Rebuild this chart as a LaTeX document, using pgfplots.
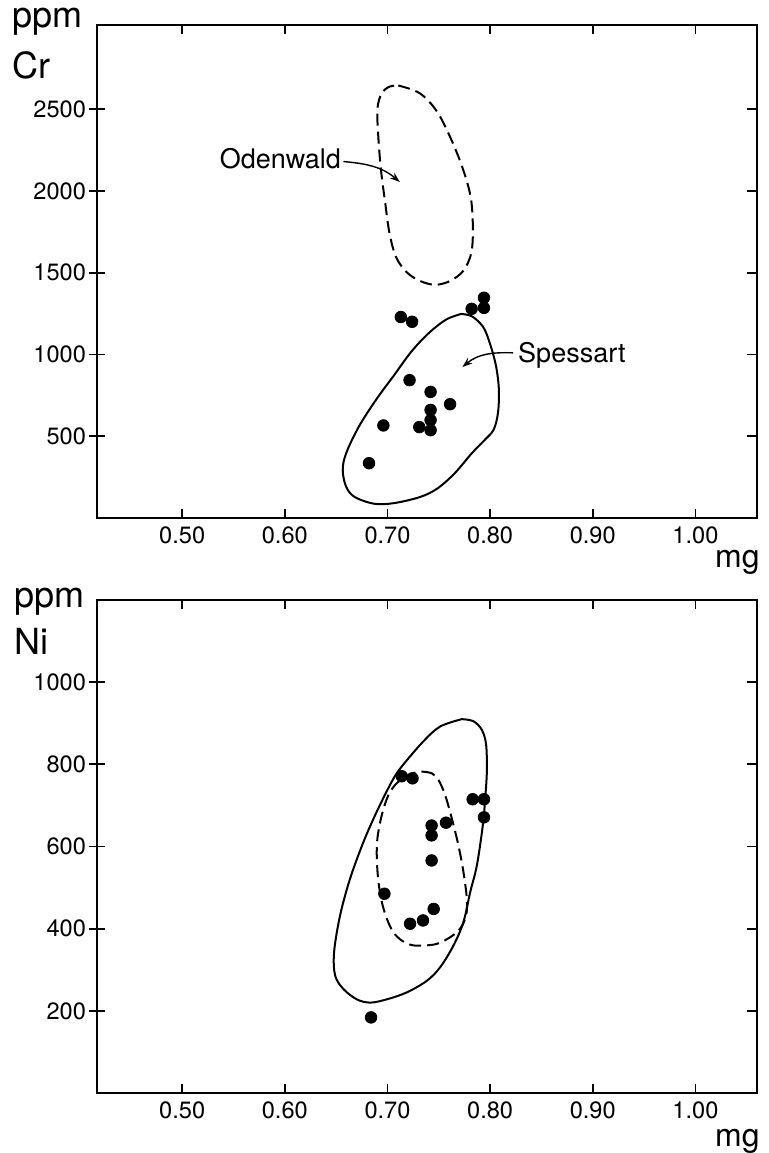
\documentclass[border=0pt]{standalone}
\usepackage{fontspec}
\setmainfont{TeX Gyre Heros}
\usepackage{pgfplots}
\usepackage{pgfplotstable}
\pgfplotsset{compat=1.18}
\usetikzlibrary{arrows.meta}
\tikzset{tk/.style={black, line width=0.9pt}}

\pgfplotstableread{
x y
0.713 1229
0.724 1200
0.782 1279
0.794 1347
0.794 1285
0.7215 843
0.742 771
0.761 696
0.742 661
0.742 599
0.742 537
0.731 556
0.696 566
0.682 335
}\crpts

\pgfplotstableread{
x y
0.7139 771
0.7244 766
0.783 715
0.794 715
0.794 671
0.757 658
0.743 651
0.743 627
0.743 566
0.697 485
0.745 448
0.7346 420
0.722 412
0.684 184
}\nipts

\pgfplotsset{
  myaxis/.style={
    scale only axis, width=330pt, height=246.5pt,
    xmin=0.417, xmax=1.06,
    xtick={0.5,0.6,0.7,0.8,0.9,1.0},
    xticklabel style={/pgf/number format/fixed, /pgf/number format/fixed zerofill, /pgf/number format/precision=2, yshift=-1pt},
    yticklabel style={/pgf/number format/1000 sep={}, xshift=-2pt},
    /pgf/number format/assume math mode=true,
    major tick length=0pt,
    axis line style={line width=1.3pt},
    ticklabel style={font=\fontsize{11.8}{12}\selectfont},
    clip=false,
  },
  dots/.style={only marks, mark=*, mark size=2.9pt, black},
  solidc/.style={smooth, tension=0.55, line width=1pt, black},
  dashc/.style={smooth, tension=0.55, line width=1pt, black, dash pattern=on 6pt off 3pt},
}

\begin{document}
\begin{tikzpicture}
\useasboundingbox (0,0) rectangle (384pt,576.5pt);

% ---------- Top panel: Cr ----------
\begin{axis}[myaxis, at={(48.5pt,317.5pt)}, anchor=south west,
  ymin=0, ymax=3015, ytick={500,1000,1500,2000,2500}]
\pgfplotsinvokeforeach{0.5,0.6,0.7,0.8,0.9,1.0}{
  \draw[tk] (axis cs:#1,0) -- ([yshift=4.5pt]axis cs:#1,0);
  \draw[tk] (axis cs:#1,3015) -- ([yshift=-4.5pt]axis cs:#1,3015);
}
\pgfplotsinvokeforeach{500,1000,1500,2000,2500}{
  \draw[tk] ([xshift=-4pt]axis cs:0.417,#1) -- ([xshift=4pt]axis cs:0.417,#1);
  \draw[tk] (axis cs:1.06,#1) -- ([xshift=-5pt]axis cs:1.06,#1);
}
\addplot[dots] table {\crpts};
% Odenwald (dashed)
\addplot[dashc] coordinates {
(0.7105,2645) (0.7316,2597) (0.7485,2483) (0.7633,2298) (0.7747,2112)
(0.7815,1946) (0.7832,1760) (0.7815,1616) (0.7739,1512) (0.7612,1450)
(0.7464,1426) (0.7316,1450) (0.7189,1502) (0.7084,1595) (0.702,1740)
(0.6978,1926) (0.6936,2132) (0.691,2339) (0.6902,2504) (0.6944,2597)
(0.702,2638) (0.7105,2645)};
% Spessart (solid)
\addplot[solidc] coordinates {
(0.7718,1248) (0.7823,1233) (0.7929,1171) (0.7992,1079) (0.8056,934)
(0.8085,789) (0.8077,645) (0.8035,541) (0.795,479) (0.7823,397)
(0.7654,273) (0.7485,180) (0.7316,128) (0.7063,91) (0.6872,87)
(0.6682,128) (0.6598,190) (0.6564,293) (0.6598,397) (0.6724,562)
(0.6893,727) (0.7063,872) (0.7232,1017) (0.7401,1130) (0.757,1213)
(0.7718,1248)};
\node[anchor=base east, font=\fontsize{13.5}{14}\selectfont, inner sep=0pt] at (axis cs:0.655,2138) {Odenwald};
\draw[line width=0.7pt, -{Stealth[length=5pt,width=3.5pt]}] (axis cs:0.657,2180) to[out=-5, in=140] (axis cs:0.712,2055);
\node[anchor=base west, font=\fontsize{13.5}{14}\selectfont, inner sep=0pt] at (axis cs:0.827,950) {Spessart};
\draw[line width=0.7pt, -{Stealth[length=5pt,width=3.5pt]}] (axis cs:0.8225,1010) to[out=178, in=40] (axis cs:0.773,923);
\end{axis}

% ---------- Bottom panel: Ni ----------
\begin{axis}[myaxis, at={(48.5pt,30pt)}, anchor=south west,
  ymin=0, ymax=1200, ytick={200,400,600,800,1000}]
\pgfplotsinvokeforeach{0.5,0.6,0.7,0.8,0.9,1.0}{
  \draw[tk] (axis cs:#1,0) -- ([yshift=4.5pt]axis cs:#1,0);
  \draw[tk] (axis cs:#1,1200) -- ([yshift=-4.5pt]axis cs:#1,1200);
}
\pgfplotsinvokeforeach{200,400,600,800,1000}{
  \draw[tk] ([xshift=-4pt]axis cs:0.417,#1) -- ([xshift=4pt]axis cs:0.417,#1);
  \draw[tk] (axis cs:1.06,#1) -- ([xshift=-5pt]axis cs:1.06,#1);
}
\addplot[dots] table {\nipts};
% solid
\addplot[solidc] coordinates {
(0.7725,910) (0.7837,905) (0.7919,884) (0.7961,848) (0.7968,782)
(0.7952,717) (0.7929,652) (0.7871,554) (0.7806,489) (0.774,416)
(0.7643,359) (0.7513,306) (0.7383,273) (0.7189,245) (0.6994,228)
(0.6831,220) (0.6701,228) (0.6571,253) (0.649,286) (0.648,343)
(0.6538,432) (0.6636,522) (0.6766,611) (0.6896,685) (0.7042,758)
(0.714,795) (0.735,856) (0.7513,892) (0.7725,910)};
% dashed
\addplot[dashc] coordinates {
(0.735,782) (0.7432,778) (0.7497,762) (0.7562,725) (0.7627,668)
(0.7691,603) (0.774,538) (0.7773,473) (0.7766,432) (0.7708,400)
(0.761,379) (0.7481,363) (0.735,359) (0.7237,360) (0.714,371)
(0.7058,391) (0.6994,424) (0.6945,465) (0.6912,514) (0.6896,571)
(0.6902,620) (0.6945,677) (0.7009,725) (0.709,754) (0.7204,774)
(0.7286,781) (0.735,782)};
\end{axis}

% axis titles
\node[anchor=base west, inner sep=0pt, font=\fontsize{18}{18}\selectfont] at (6pt,562.5pt) {ppm};
\node[anchor=base west, inner sep=0pt, font=\fontsize{18}{18}\selectfont] at (6pt,537pt) {Cr};
\node[anchor=base east, inner sep=0pt, font=\fontsize{16}{16}\selectfont] at (380pt,292.5pt) {mg};
\node[anchor=base west, inner sep=0pt, font=\fontsize{18}{18}\selectfont] at (7pt,272.5pt) {ppm};
\node[anchor=base west, inner sep=0pt, font=\fontsize{18}{18}\selectfont] at (7pt,249pt) {Ni};
\node[anchor=base east, inner sep=0pt, font=\fontsize{16}{16}\selectfont] at (380pt,3pt) {mg};
\end{tikzpicture}
\end{document}
